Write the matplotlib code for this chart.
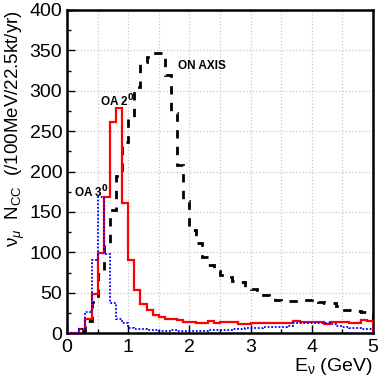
import numpy as np
import matplotlib
matplotlib.use("Agg")
import matplotlib.pyplot as plt
from matplotlib.ticker import MultipleLocator

plt.rcParams['font.family'] = ['Liberation Sans', 'DejaVu Sans']
plt.rcParams['mathtext.fontset'] = 'custom'
plt.rcParams['mathtext.rm'] = 'Liberation Sans'
plt.rcParams['mathtext.it'] = 'Liberation Sans:italic'

# bin edges (100 MeV bins, 0-5 GeV)
edges = np.round(np.arange(0, 5.01, 0.1), 2)

# ON AXIS
on_axis = [0, 0, 3, 15, 38, 73, 109, 152, 194, 236,
           268, 305, 336, 342, 347, 347, 319, 272, 208, 163,
           128, 112, 94, 84, 77, 72, 70, 65, 63, 57,
           54, 50, 47, 46, 41, 40, 40, 40, 41, 41,
           42, 38, 37, 37, 33, 28, 28, 27, 26, 24]

# OA 2 deg
oa2 = [0, 0, 5, 18, 49, 99, 168, 261, 278, 161,
       90, 53, 36, 28, 22, 20, 17, 17, 16, 14,
       14, 12, 13, 15, 13, 14, 14, 14, 11, 11,
       13, 13, 12, 12, 12, 12, 12, 15, 14, 14,
       14, 14, 11, 14, 14, 14, 13, 13, 16, 15]

# OA 3 deg
oa3 = [0, 0, 5, 26, 90, 168, 98, 37, 17, 12,
       6, 5, 5, 4, 4, 3, 3, 4, 3, 3,
       3, 3, 3, 4, 4, 4, 4, 5, 5, 6,
       6, 6, 7, 7, 7, 8, 9, 12, 12, 12,
       12, 12, 12, 11, 9, 8, 6, 6, 5, 5]

fig = plt.figure(figsize=(3.81, 3.82), dpi=100)
ax = fig.add_axes([0.176, 0.128, 0.803, 0.846])

ax.stairs(on_axis, edges, color='black', lw=2, linestyle=(0, (3, 3)), zorder=3)
ax.stairs(oa2, edges, color='#ff0000', lw=1.6, zorder=4)
ax.stairs(oa3, edges, color='#0000ff', lw=1.3, linestyle=(0, (1, 1)), zorder=5)

ax.set_xlim(0, 5)
ax.set_ylim(0, 400)
ax.xaxis.set_major_locator(MultipleLocator(1))
ax.xaxis.set_minor_locator(MultipleLocator(0.5))
ax.yaxis.set_major_locator(MultipleLocator(50))
ax.yaxis.set_minor_locator(MultipleLocator(25))
ax.grid(True, which='major', color='#c8c8c8', linestyle=':', lw=0.9)
ax.grid(True, which='minor', axis='x', color='#c8c8c8', linestyle=':', lw=0.9)
ax.tick_params(which='both', direction='in', labelsize=14, top=False, right=False)
ax.tick_params(which='major', length=6, width=1)
ax.tick_params(which='minor', length=3, width=1)
ax.tick_params(axis='x', pad=4)
for s in ax.spines.values():
    s.set_linewidth(1.8)

ax.set_ylabel(r'$\mathrm{\nu}_{\mu}$  N$_{\rm CC}$  (/100MeV/22.5kt/yr)', fontsize=13.5,
              loc='top', labelpad=2)
ax.set_xlabel(r'E$_{\mathrm{\nu}}$ (GeV)', fontsize=14, loc='right', labelpad=0)

ax.text(1.82, 331, 'ON AXIS', fontsize=8.5, fontweight='bold', va='center', zorder=6)
ax.text(0.54, 287, r'OA 2$^{\mathbf{0}}$', fontsize=8.5, fontweight='bold', va='center', zorder=6)
ax.text(0.12, 175, r'OA 3$^{\mathbf{0}}$', fontsize=8.5, fontweight='bold', va='center', zorder=6)

fig.savefig('out.png', dpi=100)
